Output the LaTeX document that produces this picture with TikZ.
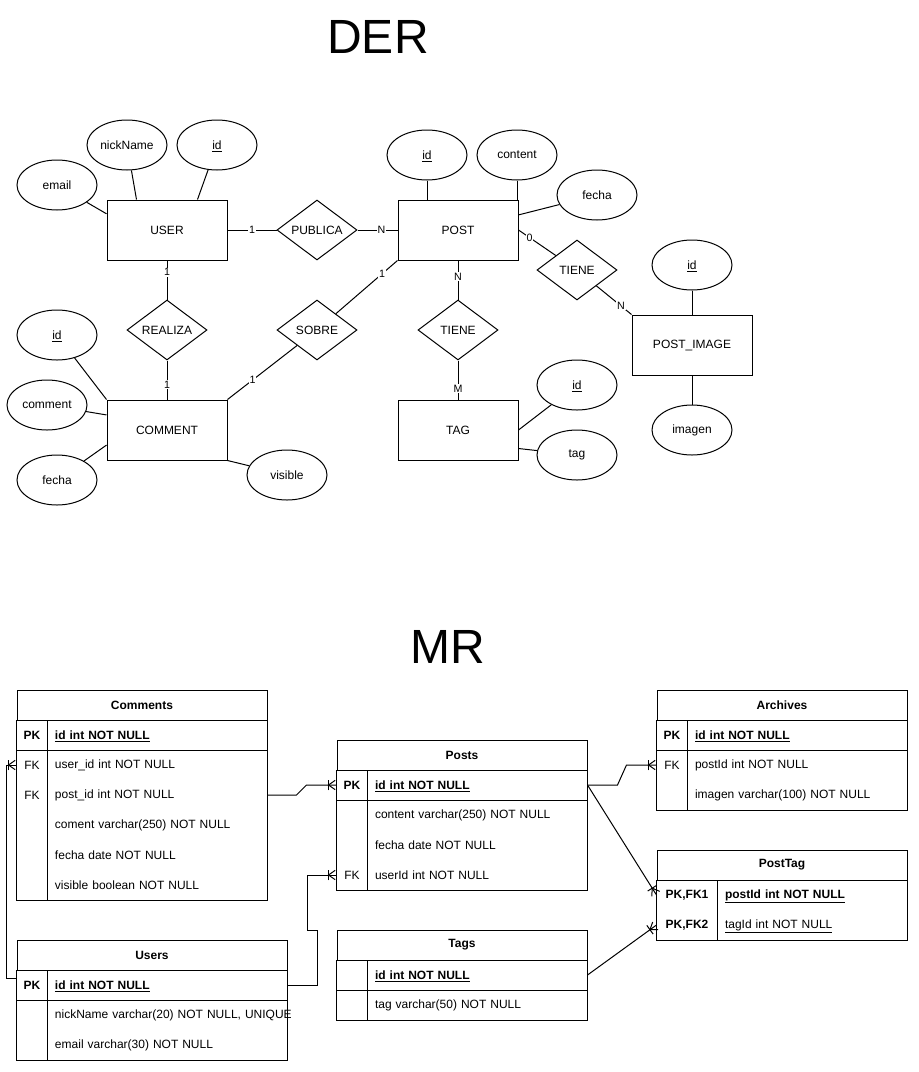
\documentclass[tikz,border=0pt]{standalone}
\usepackage{fontspec}
\setmainfont{Liberation Sans}
\usetikzlibrary{shapes.geometric, decorations.markings}
\newcommand{\smalltext}{\fontsize{9}{11}\selectfont}
\newcommand{\cardtext}{\fontsize{8}{9}\selectfont}
\newcommand{\ulined}[1]{\smash{\underline{#1}}\vphantom{#1}}
\tikzset{
	entitynode/.style={
			shape=rectangle,
			draw=black,
			fill=white,
			minimum width=90pt,
			minimum height=45pt,
			inner sep=0pt,
			font=\smalltext
		},
	relnode/.style={
			shape=diamond,
			draw=black,
			fill=white,
			aspect=1.3333,
			minimum width=60pt,
			minimum height=45pt,
			inner sep=0pt,
			font=\smalltext
		},
	attrnode/.style={
			shape=ellipse,
			draw=black,
			fill=white,
			minimum width=60pt,
			minimum height=37.5pt,
			inner sep=0pt,
			font=\smalltext
		},
	cardnode/.style={
			fill=white,
			inner sep=0.6pt,
			font=\cardtext
		}
}
\tikzset{
	tblhead/.style={
			shape=rectangle,
			draw=black,
			minimum height=22.5pt,
			inner sep=0pt,
			font=\smalltext\bfseries
		},
	keycell/.style={
			minimum width=22.5pt,
			minimum height=22.5pt,
			inner sep=0pt,
			font=\smalltext
		},
	fieldcell/.style={
			minimum height=22.5pt,
			inner xsep=6pt,
			inner ysep=0pt,
			text width=#1,
			align=left,
			font=\smalltext
		},
	crowfoot/.style={
			postaction={decorate},
			decoration={markings, mark=at position 1 with {
				\draw (-6pt,-4pt) -- (-6pt,4pt);
				\draw (-1pt,-3.5pt) -- (-6pt,0pt) -- (-1pt,3.5pt);
			}}
		}
}

\begin{document}
\begin{tikzpicture}[x=0.75pt, y=-0.75pt, line width=0.75pt]
  \useasboundingbox (0,0) rectangle (919,1072);

  % titles
  \node[font=\fontsize{36}{40}\selectfont] (der) at (378,37) {DER};
  \node[font=\fontsize{36}{40}\selectfont] (mr) at (448,647) {MR};

  % DER entities and relations
  \node[entitynode] (user) at (167,230) {USER};
  \node[entitynode] (post) at (458,230) {POST};
  \node[entitynode] (comment) at (167,430) {COMMENT};
  \node[entitynode] (tag) at (458,430) {TAG};
  \node[entitynode] (postimg) at (692,345) {POST\_IMAGE};

  \node[relnode] (publica) at (317,230) {PUBLICA};
  \node[relnode] (realiza) at (167,330) {REALIZA};
  \node[relnode] (sobre) at (317,330) {SOBRE};
  \node[relnode] (tienetag) at (458,330) {TIENE};
  \node[relnode] (tieneimg) at (577,270) {TIENE};

  \node[attrnode] (uemail) at (57,185) {email};
  \node[attrnode] (unick) at (127,145) {nickName};
  \node[attrnode] (uid) at (217,145) {\ulined{id}};
  \node[attrnode] (pid) at (427,155) {\ulined{id}};
  \node[attrnode] (pcontent) at (517,155) {content};
  \node[attrnode] (pfecha) at (597,195) {fecha};
  \node[attrnode] (iid) at (692,265) {\ulined{id}};
  \node[attrnode] (iimagen) at (692,430) {imagen};
  \node[attrnode] (tid) at (577,385) {\ulined{id}};
  \node[attrnode] (ttag) at (577,455) {tag};
  \node[attrnode] (cid) at (57,335) {\ulined{id}};
  \node[attrnode] (ccomment) at (47,405) {comment};
  \node[attrnode] (cfecha) at (57,480) {fecha};
  \node[attrnode] (cvisible) at (287,475) {visible};

  \draw (uemail) -- (user.165);
  \draw (unick) -- (user.135);
  \draw (uid) -- (user.45);
  \draw (pid) -- (pid |- post.north);
  \draw (pcontent) -- (pcontent |- post.north);
  \draw (pfecha) -- (post.14);
  \draw (iid) -- (postimg);
  \draw (iimagen) -- (postimg);
  \draw (tid) -- (tag.east);
  \draw (ttag) -- (tag.-17);
  \draw (cid) -- (comment.north west);
  \draw (ccomment) -- (comment.166);
  \draw (cfecha) -- (comment.194);
  \draw (cvisible) -- (comment.south east);

  \draw (user) -- node[cardnode]{1} (publica);
  \draw (publica) -- node[cardnode, pos=0.6]{N} (post);
  \draw (user) -- node[cardnode, pos=0.3]{1} (realiza);
  \draw (realiza) -- node[cardnode, pos=0.62]{1} (comment);
  \draw (sobre) -- node[cardnode, pos=0.75]{1} (post.south west);
  \draw (sobre) -- node[cardnode, pos=0.64]{1} (comment.north east);
  \draw (post) -- node[cardnode, pos=0.42]{N} (tienetag);
  \draw (tienetag) -- node[cardnode, pos=0.72]{M} (tag);
  \draw (post.east) -- node[cardnode, pos=0.3]{0} (tieneimg);
  \draw (tieneimg) -- node[cardnode, pos=0.7]{N} (postimg.north west);

  % MR: Comments
  \node[tblhead, minimum width=187.5pt] (comments) at (142,705) {Comments};
  \draw (comments.south west) rectangle (267,900);
  \draw (17,750) -- (267,750);
  \draw (47,720) -- (47,900);
  \node[keycell] (cmk1) at (32,735) {\textbf{PK}};
  \node[keycell] (cmk2) at (32,765) {FK};
  \node[keycell] (cmk3) at (32,795) {FK};
  \node[fieldcell=153pt] (cmf1) at (157,735) {\ulined{\textbf{id int NOT NULL}}};
  \node[fieldcell=153pt] (cmf2) at (157,765) {user\_id int NOT NULL};
  \node[fieldcell=153pt] (cmf3) at (157,795) {post\_id int NOT NULL};
  \node[fieldcell=153pt] (cmf4) at (157,825) {coment varchar(250) NOT NULL};
  \node[fieldcell=153pt] (cmf5) at (157,855) {fecha date NOT NULL};
  \node[fieldcell=153pt] (cmf6) at (157,885) {visible boolean NOT NULL};

  % MR: Users
  \node[tblhead, minimum width=202.5pt] (users) at (152,955) {Users};
  \draw (users.south west) rectangle (287,1060);
  \draw (17,1000) -- (287,1000);
  \draw (47,970) -- (47,1060);
  \node[keycell] (usk1) at (32,985) {\textbf{PK}};
  \node[fieldcell=168pt] (usf1) at (167,985) {\ulined{\textbf{id int NOT NULL}}};
  \node[fieldcell=168pt] (usf2) at (167,1015) {\mbox{nickName varchar(20) NOT NULL, UNIQUE}};
  \node[fieldcell=168pt] (usf3) at (167,1045) {email varchar(30) NOT NULL};

  % MR: Posts
  \node[tblhead, minimum width=187.5pt] (posts) at (462,755) {Posts};
  \draw (posts.south west) rectangle (587,890);
  \draw (337,800) -- (587,800);
  \draw (367,770) -- (367,890);
  \node[keycell] (psk1) at (352,785) {\textbf{PK}};
  \node[keycell] (psk4) at (352,875) {FK};
  \node[fieldcell=153pt] (psf1) at (477,785) {\ulined{\textbf{id int NOT NULL}}};
  \node[fieldcell=153pt] (psf2) at (477,815) {content varchar(250) NOT NULL};
  \node[fieldcell=153pt] (psf3) at (477,845) {fecha date NOT NULL};
  \node[fieldcell=153pt] (psf4) at (477,875) {userId int NOT NULL};

  % MR: Tags
  \node[tblhead, minimum width=187.5pt] (tags) at (462,945) {Tags};
  \draw (tags.south west) rectangle (587,1020);
  \draw (337,990) -- (587,990);
  \draw (367,960) -- (367,1020);
  \node[fieldcell=153pt] (tgf1) at (477,975) {\ulined{\textbf{id int NOT NULL}}};
  \node[fieldcell=153pt] (tgf2) at (477,1005) {tag varchar(50) NOT NULL};

  % MR: Archives
  \node[tblhead, minimum width=187.5pt] (archives) at (782,705) {Archives};
  \draw (archives.south west) rectangle (907,810);
  \draw (657,750) -- (907,750);
  \draw (687,720) -- (687,810);
  \node[keycell] (ark1) at (672,735) {\textbf{PK}};
  \node[keycell] (ark2) at (672,765) {FK};
  \node[fieldcell=153pt] (arf1) at (797,735) {\ulined{\textbf{id int NOT NULL}}};
  \node[fieldcell=153pt] (arf2) at (797,765) {postId int NOT NULL};
  \node[fieldcell=153pt] (arf3) at (797,795) {imagen varchar(100) NOT NULL};

  % MR: PostTag
  \node[tblhead, minimum width=187.5pt] (posttag) at (782,865) {PostTag};
  \draw (posttag.south west) rectangle (907,940);
  \draw (717,880) -- (717,940);
  \node[keycell, minimum width=45pt] (ptk1) at (687,895) {\textbf{PK,FK1}};
  \node[keycell, minimum width=45pt] (ptk2) at (687,925) {\textbf{PK,FK2}};
  \node[fieldcell=130.5pt] (ptf1) at (812,895) {\ulined{\textbf{postId int NOT NULL}}};
  \node[fieldcell=130.5pt] (ptf2) at (812,925) {\ulined{tagId int NOT NULL}};

  % MR links
  \draw[crowfoot] (cmf3.east) -- ++(29,0) -- ([xshift=-22.5pt]psk1.west) -- (psk1.west);
  \draw[crowfoot] ([yshift=5pt]usk1.west) -- ++(-10,0) |- (cmk2.west);
  \draw[crowfoot] (usf1.east) -- ++(30,0) -- ++(0,-55) -- ++(-10,0) |- (psk4.west);
  \draw[crowfoot] (psf1.east) -- ++(30,0) -- ([xshift=-22.5pt]ark2.west) -- (ark2.west);
  \draw[crowfoot] (psf1.east) -- (ptk1.west);
  \draw[crowfoot] (tgf1.east) -- (ptk2.west);

\end{tikzpicture}
\end{document}
